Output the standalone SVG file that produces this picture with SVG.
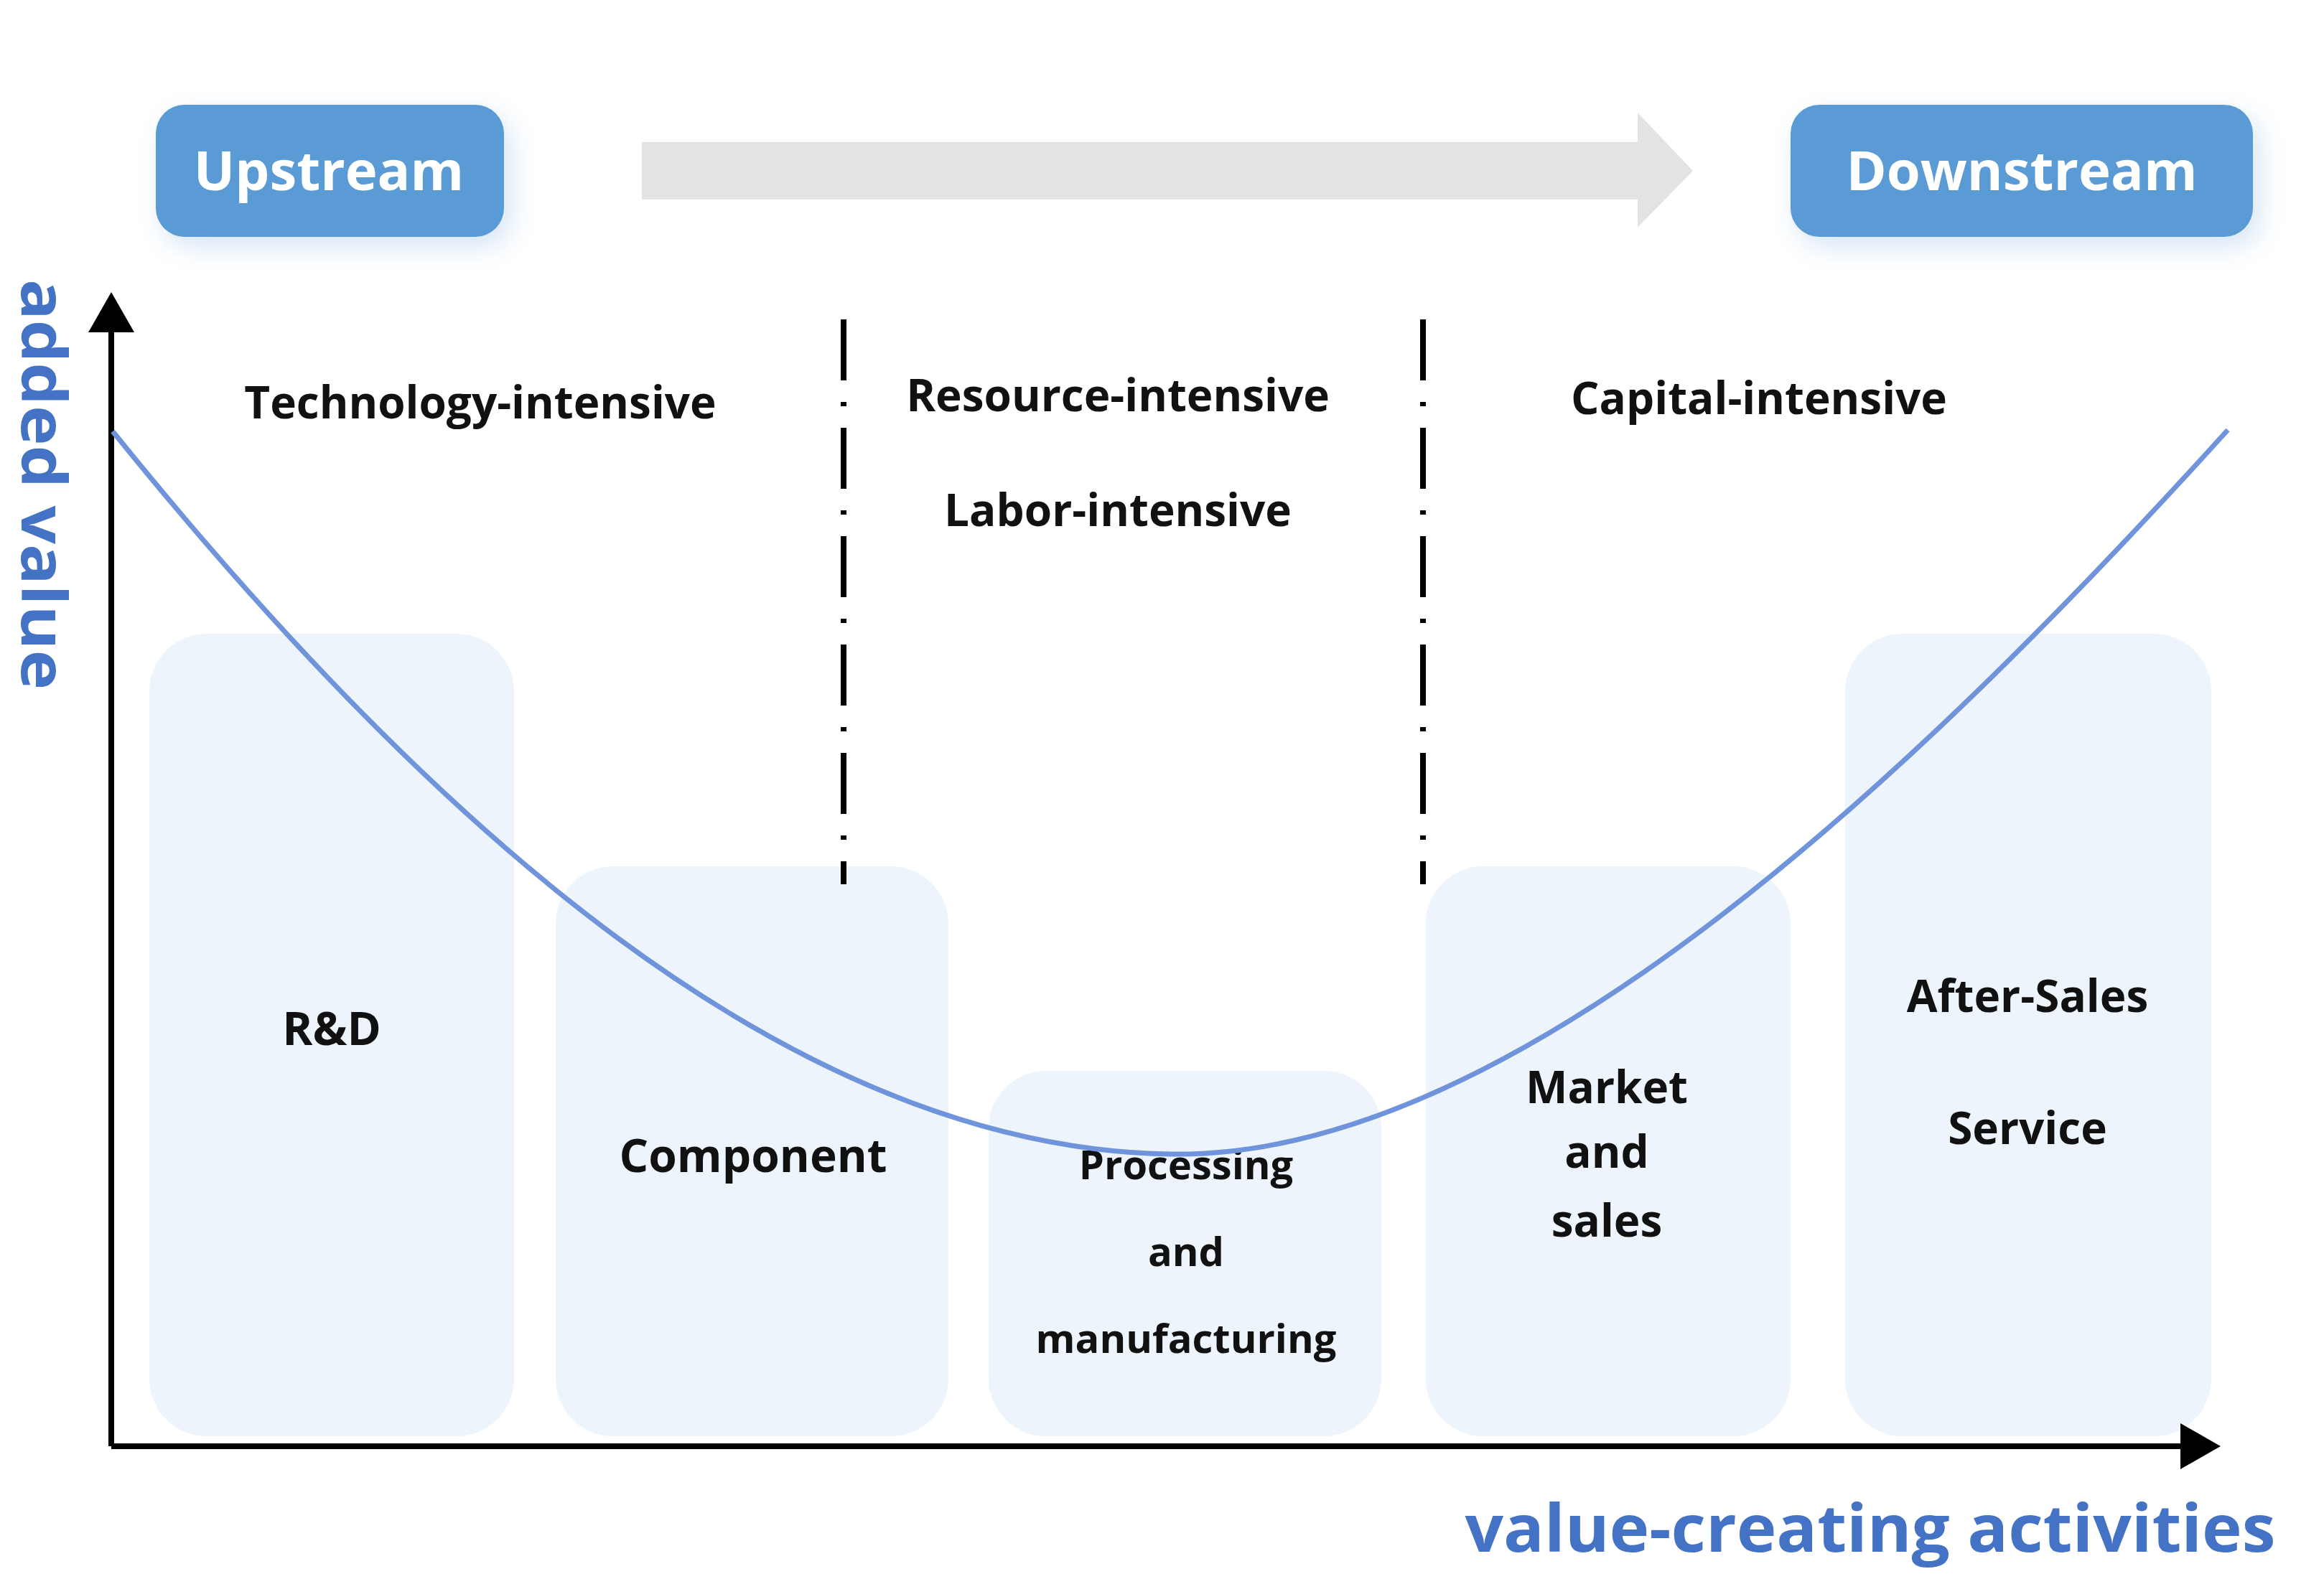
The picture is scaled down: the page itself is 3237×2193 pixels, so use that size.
<svg xmlns="http://www.w3.org/2000/svg" width="3237" height="2193" viewBox="0 0 3237 2193">
<style>
.t{font-family:"Open Sans","Liberation Sans",sans-serif;font-weight:bold;fill:#111;text-anchor:middle}
.box{fill:#EDF4FB}
.hdr{fill:#5B9BD5}
.ht{font-family:"Open Sans","Liberation Sans",sans-serif;font-weight:bold;fill:#fff;font-size:76px;text-anchor:middle}
.ax{stroke:#000;stroke-width:8;fill:none}
.dash{stroke:#000;stroke-width:8;fill:none;stroke-dasharray:85 30 6 30}
.blue{font-family:"Open Sans","Liberation Sans",sans-serif;font-weight:bold;fill:#4472C4;text-anchor:middle}
</style>
<defs>
<filter id="glow" x="-30%" y="-50%" width="160%" height="200%"><feGaussianBlur stdDeviation="18"/></filter>
<marker id="ah" markerWidth="10" markerHeight="10" refX="6" refY="5" orient="auto" markerUnits="strokeWidth"><path d="M0,1 L7,5 L0,9 z" fill="#000"/></marker>
</defs>
<rect width="3237" height="2193" fill="#fff"/>
<g id="upstream">
<rect x="227" y="160" width="485" height="184" rx="40" fill="#5B9BD5" opacity="0.25" filter="url(#glow)"/>
<rect class="hdr" x="217" y="146" width="485" height="184" rx="40"/>
<text class="ht" x="458" y="265">Upstream</text>
</g>
<g id="downstream">
<rect x="2504" y="160" width="644" height="184" rx="40" fill="#5B9BD5" opacity="0.25" filter="url(#glow)"/>
<rect class="hdr" x="2494" y="146" width="644" height="184" rx="40"/>
<text class="ht" x="2816" y="265">Downstream</text>
</g>
<g id="flow-arrow"><path d="M894,198 H2281 V157 L2358,238 L2281,317 V278 H894 z" fill="#E3E3E3"/></g>
<g id="rd"><rect class="box" x="208" y="883" width="508" height="1118" rx="80"/><text class="t" x="462" y="1456" font-size="64">R&amp;D</text></g>
<g id="component"><rect class="box" x="774" y="1207" width="547" height="794" rx="80"/><text class="t" x="1049" y="1633" font-size="64">Component</text></g>
<g id="processing"><rect class="box" x="1377" y="1492" width="547" height="509" rx="80"/>
<text class="t" x="1652" y="1643" font-size="56">Processing</text><text class="t" x="1652" y="1764" font-size="56">and</text><text class="t" x="1652" y="1885" font-size="56">manufacturing</text></g>
<g id="market"><rect class="box" x="1986" y="1207" width="508" height="794" rx="80"/>
<text class="t" x="2238" y="1537" font-size="62">Market</text><text class="t" x="2238" y="1627" font-size="62">and</text><text class="t" x="2238" y="1723" font-size="62">sales</text></g>
<g id="aftersales"><rect class="box" x="2570" y="883" width="510" height="1118" rx="80"/>
<text class="t" x="2824" y="1410" font-size="62">After-Sales</text><text class="t" x="2824" y="1594" font-size="62">Service</text></g>
<g id="labels">
<text class="t" x="669" y="583" font-size="62">Technology-intensive</text>
<text class="t" x="1557" y="573" font-size="62">Resource-intensive</text>
<text class="t" x="1557" y="733" font-size="62">Labor-intensive</text>
<text class="t" x="2450" y="577" font-size="62">Capital-intensive</text>
<text class="blue" font-size="86" transform="translate(30,675) rotate(90)" textLength="572" lengthAdjust="spacingAndGlyphs">added value</text>
<text class="blue" x="2605" y="2162" font-size="92" textLength="1129" lengthAdjust="spacingAndGlyphs">value-creating activities</text>
</g>
<g id="connectors">
<path class="ax" d="M155,2015 V415" marker-end="url(#ah)"/>
<path class="ax" d="M155,2015 H3085" marker-end="url(#ah)"/>
<path class="dash" d="M1175,445 V1232"/>
<path class="dash" d="M1982,445 V1232"/>
<path d="M157,601 C600,1150 1100,1600 1631,1608 C2100,1615 2650,1100 3103,599" fill="none" stroke="#6F94DC" stroke-width="7"/>
</g>
</svg>
